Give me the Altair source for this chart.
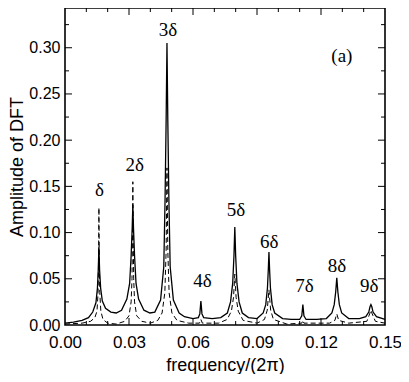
import altair as alt
import pandas as pd

# ---- data ----
solid_x = [0.000, 0.004, 0.008, 0.011, 0.013, 0.0145, 0.0152, 0.0156, 0.0159, 0.0162, 0.0167, 0.0175,
           0.0190, 0.0215, 0.0240, 0.0265, 0.0290, 0.0303, 0.0310, 0.0315, 0.0318, 0.0321, 0.0326,
           0.0333, 0.0345, 0.0370, 0.0398, 0.0421, 0.0448, 0.0463, 0.0469, 0.0474, 0.0478, 0.0482,
           0.0487, 0.0493, 0.0508, 0.0535, 0.0560, 0.0600, 0.0625, 0.0632, 0.0637, 0.0642, 0.0650,
           0.0690, 0.0730, 0.0761, 0.0776, 0.0786, 0.0792, 0.0796, 0.0800, 0.0806, 0.0816, 0.0831,
           0.0860, 0.0900, 0.0929, 0.0941, 0.0949, 0.0953, 0.0956, 0.0959, 0.0963, 0.0971, 0.0983,
           0.1020, 0.1060, 0.1100, 0.1110, 0.1115, 0.1120, 0.1130, 0.1180, 0.1225, 0.1251, 0.1262,
           0.1269, 0.1274, 0.1279, 0.1286, 0.1297, 0.1330, 0.1380, 0.1410, 0.1424, 0.1430, 0.1434,
           0.1438, 0.1444, 0.1460, 0.1500]
solid_y = [0.002, 0.003, 0.005, 0.008, 0.014, 0.024, 0.040, 0.060, 0.085, 0.060, 0.040, 0.026,
           0.018, 0.014, 0.013, 0.016, 0.028, 0.045, 0.075, 0.105, 0.130, 0.105, 0.075,
           0.045, 0.028, 0.016, 0.013, 0.014, 0.027, 0.063, 0.135, 0.220, 0.305, 0.220,
           0.135, 0.063, 0.027, 0.013, 0.009, 0.007, 0.008, 0.012, 0.026, 0.012, 0.008,
           0.007, 0.008, 0.013, 0.025, 0.045, 0.075, 0.106, 0.075, 0.045, 0.025, 0.013,
           0.008, 0.007, 0.013, 0.022, 0.040, 0.060, 0.079, 0.060, 0.040, 0.022, 0.013,
           0.007, 0.006, 0.006, 0.010, 0.022, 0.010, 0.006, 0.006, 0.007, 0.013, 0.022,
           0.036, 0.051, 0.036, 0.022, 0.013, 0.007, 0.007, 0.009, 0.014, 0.020, 0.022,
           0.020, 0.014, 0.009, 0.006]

dashed_x = [0.000, 0.008, 0.012, 0.014, 0.0150, 0.0155, 0.0157, 0.0159, 0.0161, 0.0163, 0.0168, 0.0178,
            0.0200, 0.0240, 0.0280, 0.0300, 0.0310, 0.0314, 0.0316, 0.0318, 0.0320, 0.0322, 0.0326,
            0.0336, 0.0360, 0.0400, 0.0435, 0.0455, 0.0468, 0.0474, 0.0478, 0.0482, 0.0488, 0.0501,
            0.0525, 0.0580, 0.0630, 0.0637, 0.0644, 0.0720, 0.0760, 0.0780, 0.0790, 0.0796, 0.0802,
            0.0812, 0.0835, 0.0900, 0.0935, 0.0948, 0.0956, 0.0964, 0.0977, 0.1040, 0.1110, 0.1115,
            0.1120, 0.1240, 0.1265, 0.1274, 0.1283, 0.1330, 0.1415, 0.1428, 0.1434, 0.1440, 0.1455,
            0.1500]
dashed_y = [0.001, 0.002, 0.004, 0.008, 0.015, 0.035, 0.065, 0.127, 0.065, 0.035, 0.015, 0.006,
            0.002, 0.001, 0.004, 0.010, 0.025, 0.050, 0.090, 0.155, 0.090, 0.050, 0.025,
            0.010, 0.004, 0.002, 0.005, 0.013, 0.035, 0.080, 0.170, 0.080, 0.035, 0.013,
            0.005, 0.002, 0.002, 0.006, 0.002, 0.002, 0.006, 0.015, 0.030, 0.055, 0.030,
            0.015, 0.005, 0.002, 0.006, 0.016, 0.038, 0.016, 0.006, 0.001, 0.002, 0.005,
            0.002, 0.002, 0.005, 0.012, 0.005, 0.002, 0.004, 0.012, 0.016, 0.012, 0.004,
            0.002]

peak_labels = ["δ", "2δ", "3δ", "4δ", "5δ", "6δ", "7δ", "8δ", "9δ", "(a)"]
label_x = [0.0161, 0.0327, 0.0483, 0.0644, 0.0801, 0.0957, 0.1123, 0.1275, 0.1426, 0.1298]
label_y = [0.146, 0.173, 0.319, 0.0476, 0.1244, 0.0898, 0.0422, 0.0638, 0.0422, 0.291]

x_label_values = [0.0, 0.03, 0.06, 0.09, 0.12, 0.15]
y_label_values = [0.0, 0.05, 0.10, 0.15, 0.20, 0.25, 0.30]
x_major_ticks = [0.03, 0.06, 0.09, 0.12]
x_minor_ticks = [0.01, 0.02, 0.04, 0.05, 0.07, 0.08, 0.10, 0.11, 0.13, 0.14]
y_major_ticks = [0.05, 0.10, 0.15, 0.20, 0.25, 0.30]
y_minor_ticks = [0.025, 0.075, 0.125, 0.175, 0.225, 0.275, 0.325]

X_DOMAIN = [0, 0.15]
Y_DOMAIN = [0, 0.343]
W, H = 320, 317

solid = pd.DataFrame({"x": solid_x, "y": solid_y})
dashed = pd.DataFrame({"x": dashed_x, "y": dashed_y})
labels = pd.DataFrame({"t": peak_labels, "x": label_x, "y": label_y})

xscale = alt.Scale(domain=X_DOMAIN, nice=False, zero=False)
yscale = alt.Scale(domain=Y_DOMAIN, nice=False, zero=False)

x_enc = alt.X("x:Q", scale=xscale, title="frequency/(2π)",
              axis=alt.Axis(values=x_label_values, format=".2f", ticks=False, tickSize=0,
                            domain=False, grid=False, labelFont="Liberation Sans",
                            labelFontSize=17, labelColor="black", labelPadding=9,
                            titleFont="Liberation Sans", titleFontSize=18,
                            titleFontWeight="normal", titleColor="black", titlePadding=6,
                            labelFlush=False))
y_enc = alt.Y("y:Q", scale=yscale, title="Amplitude of DFT",
              axis=alt.Axis(values=y_label_values, format=".2f", ticks=False, tickSize=0,
                            domain=False, grid=False, labelFont="Liberation Sans",
                            labelFontSize=16, labelColor="black", labelPadding=5,
                            titleFont="Liberation Sans", titleFontSize=18,
                            titleFontWeight="normal", titleColor="black", titlePadding=2,
                            labelFlush=False))

solid_line = alt.Chart(solid).mark_line(color="black", strokeWidth=1.3).encode(x=x_enc, y=y_enc)
dashed_line = alt.Chart(dashed).mark_line(color="black", strokeWidth=1.0,
                                          strokeDash=[5, 3]).encode(x="x:Q", y="y:Q")

texts = alt.Chart(labels).mark_text(font="Liberation Serif", fontSize=19, color="black",
                                    baseline="middle", align="center").encode(
    x="x:Q", y="y:Q", text="t:N")


def xticks(vals, length):
    d = pd.DataFrame({"x": vals})
    bottom = alt.Chart(d).mark_rule(color="black", strokeWidth=1).encode(
        x="x:Q", y=alt.value(H), y2=alt.value(H - length))
    top = alt.Chart(d).mark_rule(color="black", strokeWidth=1).encode(
        x="x:Q", y=alt.value(0), y2=alt.value(length))
    return [bottom, top]


def yticks(vals, length):
    d = pd.DataFrame({"y": vals})
    left = alt.Chart(d).mark_rule(color="black", strokeWidth=1).encode(
        y="y:Q", x=alt.value(0), x2=alt.value(length))
    right = alt.Chart(d).mark_rule(color="black", strokeWidth=1).encode(
        y="y:Q", x=alt.value(W), x2=alt.value(W - length))
    return [left, right]


layers = [solid_line, dashed_line, texts]
layers += xticks(x_major_ticks, 7) + xticks(x_minor_ticks, 4)
layers += yticks(y_major_ticks, 7) + yticks(y_minor_ticks, 4)

chart = alt.layer(*layers).properties(
    width=W, height=H,
    autosize=alt.AutoSizeParams(type="none"),
    padding={"left": 57, "top": 0, "right": 16, "bottom": 49},
    background="white",
).configure_view(stroke="black", strokeWidth=1.6)

chart.save("out.html", embed_options={"renderer": "svg", "actions": False})
